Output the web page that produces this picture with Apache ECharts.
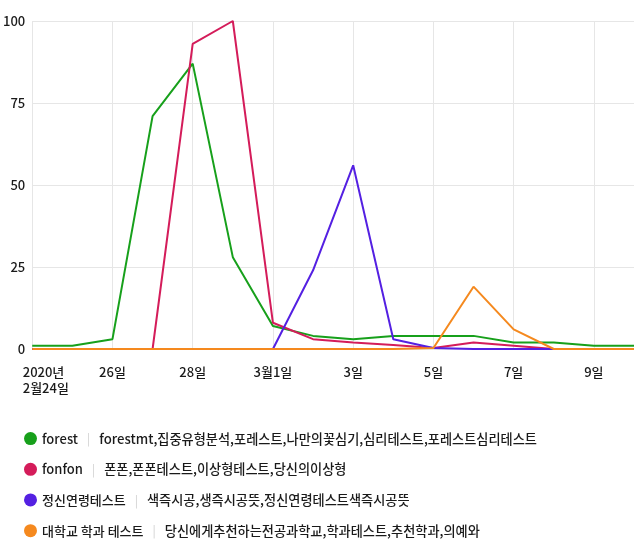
<!DOCTYPE html>
<html>
<head>
<meta charset="utf-8">
<script src="https://cdn.jsdelivr.net/npm/echarts@6/dist/echarts.min.js"></script>
<style>html,body{margin:0;padding:0;background:#fff;}#c{width:640px;height:555px;}</style>
</head>
<body>
<div id="c"></div>
<script>
const dates = ['2020-02-24','2020-02-25','2020-02-26','2020-02-27','2020-02-28','2020-02-29','2020-03-01','2020-03-02','2020-03-03','2020-03-04','2020-03-05','2020-03-06','2020-03-07','2020-03-08','2020-03-09','2020-03-10'];
const xTickLabels = ['2020년\n2월24일','25일','26일','27일','28일','29일','3월1일','2일','3일','4일','5일','6일','7일','8일','9일','10일'];
const yTicks = [0, 25, 50, 75, 100];
const seriesNames = ['forest', 'fonfon', '정신연령테스트', '대학교 학과 테스트'];
const keywords = [
  'forestmt,집중유형분석,포레스트,나만의꽃심기,심리테스트,포레스트심리테스트',
  '폰폰,폰폰테스트,이상형테스트,당신의이상형',
  '색즉시공,생즉시공뜻,정신연령테스트색즉시공뜻',
  '당신에게추천하는전공과학교,학과테스트,추천학과,의예와'
];
const forest  = [1, 1, 3, 71, 87, 28, 7, 4, 3, 4, 4, 4, 2, 2, 1, 1];
const fonfon  = [0, 0, 0, 0, 93, 100, 8, 3, 2, 1.2, 0.3, 2, 1, 0, 0, 0];
const mental  = [0, 0, 0, 0, 0, 0, 0, 24, 56, 3, 0.3, 0, 0, 0, 0, 0];
const college = [0, 0, 0, 0, 0, 0, 0, 0, 0, 0, 0.3, 19, 6, 0, 0, 0];
const colors = ['#17a01b', '#d41c5a', '#5420e2', '#f5891e'];
const values = [forest, fonfon, mental, college];

const FONT = '"Noto Sans CJK KR", "Noto Sans", sans-serif';
const chart = echarts.init(document.getElementById('c'), null, {renderer: 'canvas'});
chart.setOption({
  backgroundColor: '#ffffff',
  animation: false,
  color: colors,
  textStyle: {fontFamily: FONT},
  grid: {left: 31.5, right: 6, top: 21, height: 328, containLabel: false},
  xAxis: {
    type: 'category',
    boundaryGap: false,
    data: dates,
    axisLine: {show: false},
    axisTick: {show: false},
    splitLine: {show: true, interval: 1, lineStyle: {color: '#e6e6e6', width: 1}},
    axisLabel: {
      interval: 1,
      margin: 15,
      color: '#1a1a1a',
      fontSize: 13,
      fontWeight: 500,
      fontFamily: FONT,
      lineHeight: 16,
      formatter: function (v, i) {
        const t = xTickLabels[i];
        if (i === 0) {
          return t.split('\n').map(s => '{f|' + s + '}').join('\n');
        }
        return t;
      },
      rich: {
        f: {width: 19, align: 'left', fontSize: 13, fontWeight: 500, color: '#1a1a1a', lineHeight: 16, fontFamily: FONT}
      }
    }
  },
  yAxis: {
    type: 'value',
    min: yTicks[0],
    max: yTicks[yTicks.length - 1],
    interval: 25,
    axisLine: {show: false},
    axisTick: {show: false},
    splitLine: {lineStyle: {color: '#e6e6e6', width: 1}},
    axisLabel: {margin: 7, color: '#1a1a1a', fontSize: 13, fontWeight: 500, fontFamily: FONT}
  },
  legend: {
    show: true,
    orient: 'vertical',
    left: 24,
    top: 432,
    padding: 0,
    icon: 'circle',
    itemWidth: 13,
    itemHeight: 13,
    itemGap: 17.5,
    selectedMode: false,
    data: seriesNames,
    formatter: function (name) {
      const i = seriesNames.indexOf(name);
      return '{n|' + name + '}{s||}{k|' + keywords[i] + '}';
    },
    textStyle: {
      fontFamily: FONT,
      rich: {
        n: {fontSize: 13, fontWeight: 500, color: '#1a1a1a', lineHeight: 16, fontFamily: FONT},
        s: {fontSize: 12, color: '#d0d0d0', padding: [0, 9, 0, 9], lineHeight: 16, fontFamily: FONT},
        k: {fontSize: 13.2, fontWeight: 500, color: '#1a1a1a', lineHeight: 16, fontFamily: FONT}
      }
    }
  },
  series: seriesNames.map((name, i) => ({
    name: name,
    type: 'line',
    data: values[i],
    symbol: 'none',
    showSymbol: false,
    lineStyle: {width: 2, color: colors[i]},
    itemStyle: {color: colors[i]}
  }))
});
</script>
</body>
</html>
